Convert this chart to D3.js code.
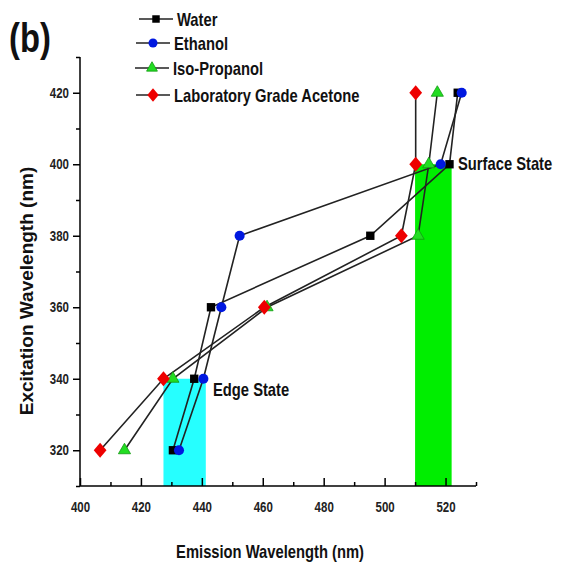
<!DOCTYPE html>
<html><head><meta charset="utf-8">
<script src="https://cdn.jsdelivr.net/npm/d3@7"></script>
<style>body{margin:0;background:#fff}svg{display:block}text{font-family:"Liberation Sans",Arial,sans-serif;font-weight:bold}</style>
</head><body><svg id="c" width="562" height="563"></svg>
<script>
const excitation = [320, 340, 360, 380, 400, 420];
const water = [430.5, 437.5, 443, 495.3, 521.3, 524];
const ethanol = [432.5, 440.5, 446.4, 452.4, 518.4, 525.3];
const isoPropanol = [414.6, 430.5, 461.4, 511, 514.5, 517.3];
const acetone = [406.6, 427.4, 460.5, 505.5, 510.2, 510.2];
const seriesNames = ["Water", "Ethanol", "Iso-Propanol", "Laboratory Grade Acetone"];
const xTicks = [400, 420, 440, 460, 480, 500, 520];
const yTicks = [320, 340, 360, 380, 400, 420];
const edgeBand = [427.4, 441.3, 340];
const surfaceBand = [510, 522, 400];

const NX = 0.82; // horizontal squeeze to mimic the narrow lettering
const svg = d3.select("#c");
const x = d3.scaleLinear().domain([400, 530]).range([80, 476]);
const y = d3.scaleLinear().domain([310, 430]).range([486, 57]);

function label(px, py, txt, size, anchor) {
  return svg.append("text").attr("transform", `translate(${px},${py}) scale(${NX},1)`)
    .attr("text-anchor", anchor || "start").attr("font-size", size).attr("fill", "#111").text(txt);
}

// bands
svg.append("rect").attr("x", x(edgeBand[0])).attr("width", x(edgeBand[1]) - x(edgeBand[0]))
  .attr("y", y(edgeBand[2])).attr("height", y(310) - y(edgeBand[2])).attr("fill", "#00ffff").attr("opacity", 0.85);
svg.append("rect").attr("x", x(surfaceBand[0])).attr("width", x(surfaceBand[1]) - x(surfaceBand[0]))
  .attr("y", y(surfaceBand[2])).attr("height", y(310) - y(surfaceBand[2])).attr("fill", "#00ee00");

// axes
const xAxis = svg.append("g").attr("transform", "translate(0,486)");
xAxis.call(d3.axisBottom(x).tickValues(d3.range(400, 531, 10)).tickSize(-4).tickFormat(""));
xAxis.call(g => g.selectAll(".tick line").filter(d => d % 20 === 0).attr("y2", -8));
xAxis.selectAll(".domain").remove();
xAxis.append("line").attr("x1", 80).attr("x2", 476).attr("stroke", "#000").attr("stroke-width", 1.5);
xAxis.selectAll(".tick line").attr("stroke-width", 1.5);
const xLab = svg.append("g").attr("transform", "translate(0,486)")
  .call(d3.axisBottom(x).tickValues(xTicks).tickSize(0).tickPadding(16));
xLab.select(".domain").remove();
xLab.selectAll("text").attr("font-size", 14).attr("fill", "#222").attr("transform", `scale(${NX},1)`);

const yAxis = svg.append("g").attr("transform", "translate(80,0)");
yAxis.call(d3.axisLeft(y).tickValues(d3.range(310, 431, 10)).tickSize(4).tickFormat(""));
yAxis.call(g => g.selectAll(".tick line").filter(d => d % 20 === 0).attr("x2", -7));
yAxis.selectAll(".domain").remove();
yAxis.append("line").attr("y1", 57).attr("y2", 486).attr("stroke", "#000").attr("stroke-width", 1.5);
yAxis.selectAll(".tick line").attr("stroke-width", 1.5);
const yLab = svg.append("g").attr("transform", "translate(80,0)")
  .call(d3.axisLeft(y).tickValues(yTicks).tickSize(0).tickPadding(11));
yLab.select(".domain").remove();
yLab.selectAll("text").attr("font-size", 14).attr("fill", "#222")
  .attr("x", -11 / NX).attr("transform", `scale(${NX},1)`);
svg.selectAll("g").attr("font-family", null);

// series
const diamond = {draw(ctx, size) { const r = Math.sqrt(size / 2); ctx.moveTo(0, -r * 1.12); ctx.lineTo(r * 0.95, 0); ctx.lineTo(0, r * 1.12); ctx.lineTo(-r * 0.95, 0); ctx.closePath(); }};
const series = [
  {name: seriesNames[0], vals: water, color: "#000", sym: d3.symbolSquare, size: 70},
  {name: seriesNames[1], vals: ethanol, color: "#0018e0", sym: d3.symbolCircle, size: 80},
  {name: seriesNames[2], vals: isoPropanol, color: "#22dd22", sym: d3.symbolTriangle, size: 64},
  {name: seriesNames[3], vals: acetone, color: "#ee0000", sym: diamond, size: 90}
];
const line = d3.line().x(d => x(d[0])).y(d => y(d[1]));
series.forEach(s => {
  const pts = s.vals.map((v, i) => [v, excitation[i]]);
  svg.append("path").attr("d", line(pts)).attr("fill", "none").attr("stroke", "#222").attr("stroke-width", 1.6);
});
series.forEach(s => {
  const pts = s.vals.map((v, i) => [v, excitation[i]]);
  svg.selectAll(null).data(pts).enter().append("path")
    .attr("d", d3.symbol().type(s.sym).size(s.size))
    .attr("transform", d => `translate(${x(d[0])},${y(d[1])})`)
    .attr("fill", s.color).attr("stroke", s.sym === d3.symbolTriangle ? "#119911" : "none").attr("stroke-width", 0.8);
});

// legend
const legY = [19, 43, 68, 95];
const legX = [139, 136, 135, 136];
series.forEach((s, i) => {
  const g = svg.append("g").attr("transform", `translate(${legX[i]},${legY[i]})`);
  g.append("line").attr("x1", 0).attr("x2", 34).attr("stroke", "#222").attr("stroke-width", 1.6);
  g.append("path").attr("d", d3.symbol().type(s.sym).size(s.size * 0.8)).attr("transform", "translate(17,0)")
    .attr("fill", s.color).attr("stroke", s.sym === d3.symbolTriangle ? "#119911" : "none").attr("stroke-width", 0.8);
  g.append("text").attr("transform", `translate(38,6.5) scale(${NX},1)`).attr("font-size", 18).attr("fill", "#111").text(s.name);
});

// annotations
label(9, 52, "(b)", 40);
label(458, 170, "Surface State", 18);
label(213, 396, "Edge State", 18);
label(270, 558, "Emission Wavelength (nm)", 18, "middle");
svg.append("text").attr("transform", "translate(33,291) rotate(-90)").attr("text-anchor", "middle").attr("font-size", 19).attr("fill", "#111").text("Excitation Wavelength (nm)");
</script></body></html>
